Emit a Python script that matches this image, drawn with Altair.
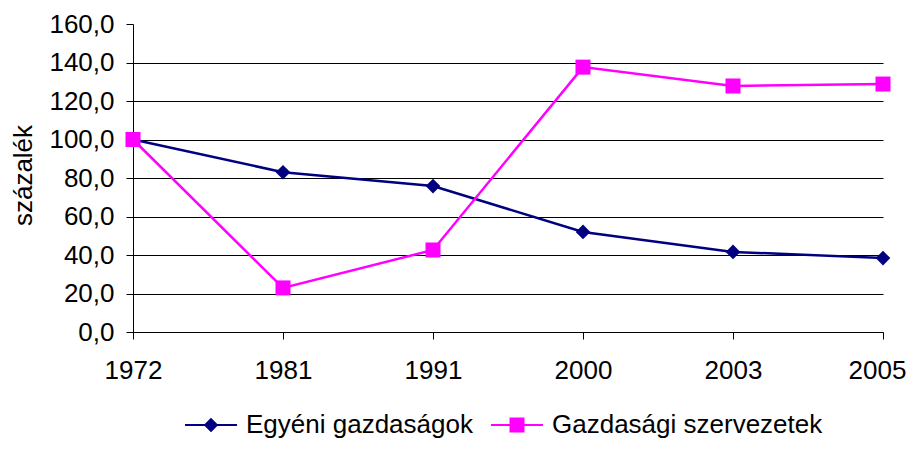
import altair as alt
import pandas as pd

years = ["1972", "1981", "1991", "2000", "2003", "2005"]
egyeni = [100.0, 83.0, 75.8, 52.0, 41.6, 38.4]
gazdasagi = [100.0, 22.9, 42.6, 137.6, 127.8, 128.8]
series_names = ["Egyéni gazdaságok", "Gazdasági szervezetek"]
colors = ["#000080", "#FF00FF"]
y_ticks = [0, 20, 40, 60, 80, 100, 120, 140, 160]

rows = []
for name, vals in zip(series_names, [egyeni, gazdasagi]):
    for i, (yr, v) in enumerate(zip(years, vals)):
        rows.append({"year": yr, "value": v, "series": name, "order": i})
df = pd.DataFrame(rows)

FONT = "Liberation Sans"
FS = 26

# legend glyphs: a short line (thin filled bar) with the marker on it
path_diamond = "M-5.2,-0.2H5.2V0.2H-5.2ZM0,-1.45L1.45,0L0,1.45L-1.45,0Z"
path_square = "M-5.2,-0.2H5.2V0.2H-5.2ZM-1.5,-1.5H1.5V1.5H-1.5Z"

x_enc = alt.X(
    "year:O",
    sort=years,
    scale=alt.Scale(type="point", padding=0),
    axis=alt.Axis(
        title=None, labelAngle=0, labelFont=FONT, labelFontSize=FS,
        labelColor="black", tickColor="black", tickSize=7, domainColor="black",
        labelPadding=18, grid=False,
        labelOffset={"condition": {"test": f"datum.value === '{years[-1]}'", "value": -6}, "value": 0},
    ),
)
y_enc = alt.Y(
    "value:Q",
    scale=alt.Scale(domain=[0, 160], nice=False),
    axis=alt.Axis(
        values=y_ticks,
        title="százalék",
        titleFont=FONT, titleFontSize=FS, titleFontWeight="normal", titleColor="black",
        titleAngle=-90, titleX=-110, titleY=151, titleAlign="center", titleBaseline="middle",
        labelExpr="replace(format(datum.value, '.1f'), '.', ',')",
        labelFont=FONT, labelFontSize=FS, labelColor="black", labelPadding=12,
        tickColor="black", tickSize=7, domainColor="black",
        grid=True, gridColor="black", gridWidth=1,
        gridOpacity={"condition": {"test": "datum.value >= 160", "value": 0}, "value": 1},
    ),
)

legend = alt.Legend(
    title=None, orient="none", direction="horizontal",
    legendX=65, legendY=388,
    labelFont=FONT, labelFontSize=FS, labelColor="black", labelLimit=0,
    symbolSize=100, symbolStrokeWidth=0, symbolOpacity=1,
    labelOffset=22, columnPadding=18,
)

color_enc = alt.Color(
    "series:N",
    scale=alt.Scale(domain=series_names, range=colors),
    legend=legend,
)

base = alt.Chart(df)

lines = base.mark_line(strokeWidth=2.5).encode(
    x=x_enc, y=y_enc, color=color_enc, order="order:Q"
)
pts_egyeni = (
    base.mark_point(filled=True, opacity=1, shape="diamond", size=215)
    .encode(x=x_enc, y=y_enc, color=color_enc)
    .transform_filter(alt.datum.series == series_names[0])
)
pts_gazd = (
    base.mark_point(filled=True, opacity=1, shape="square", size=225)
    .encode(x=x_enc, y=y_enc, color=color_enc)
    .transform_filter(alt.datum.series == series_names[1])
)
legend_layer = (
    base.mark_point(filled=True, opacity=1)
    .encode(
        color=color_enc,
        shape=alt.Shape("series:N", scale=alt.Scale(domain=series_names, range=[path_diamond, path_square]), legend=legend),
    )
    .transform_filter("false")
)

chart = (
    alt.layer(lines, pts_egyeni, pts_gazd, legend_layer)
    .properties(
        width=750, height=308,
        autosize=alt.AutoSizeParams(type="none"),
        padding={"left": 125, "top": 16, "right": 24, "bottom": 109},
        background="white",
    )
    .configure_view(stroke=None)
)

chart.save("out.html", embed_options={"renderer": "svg", "actions": False})
